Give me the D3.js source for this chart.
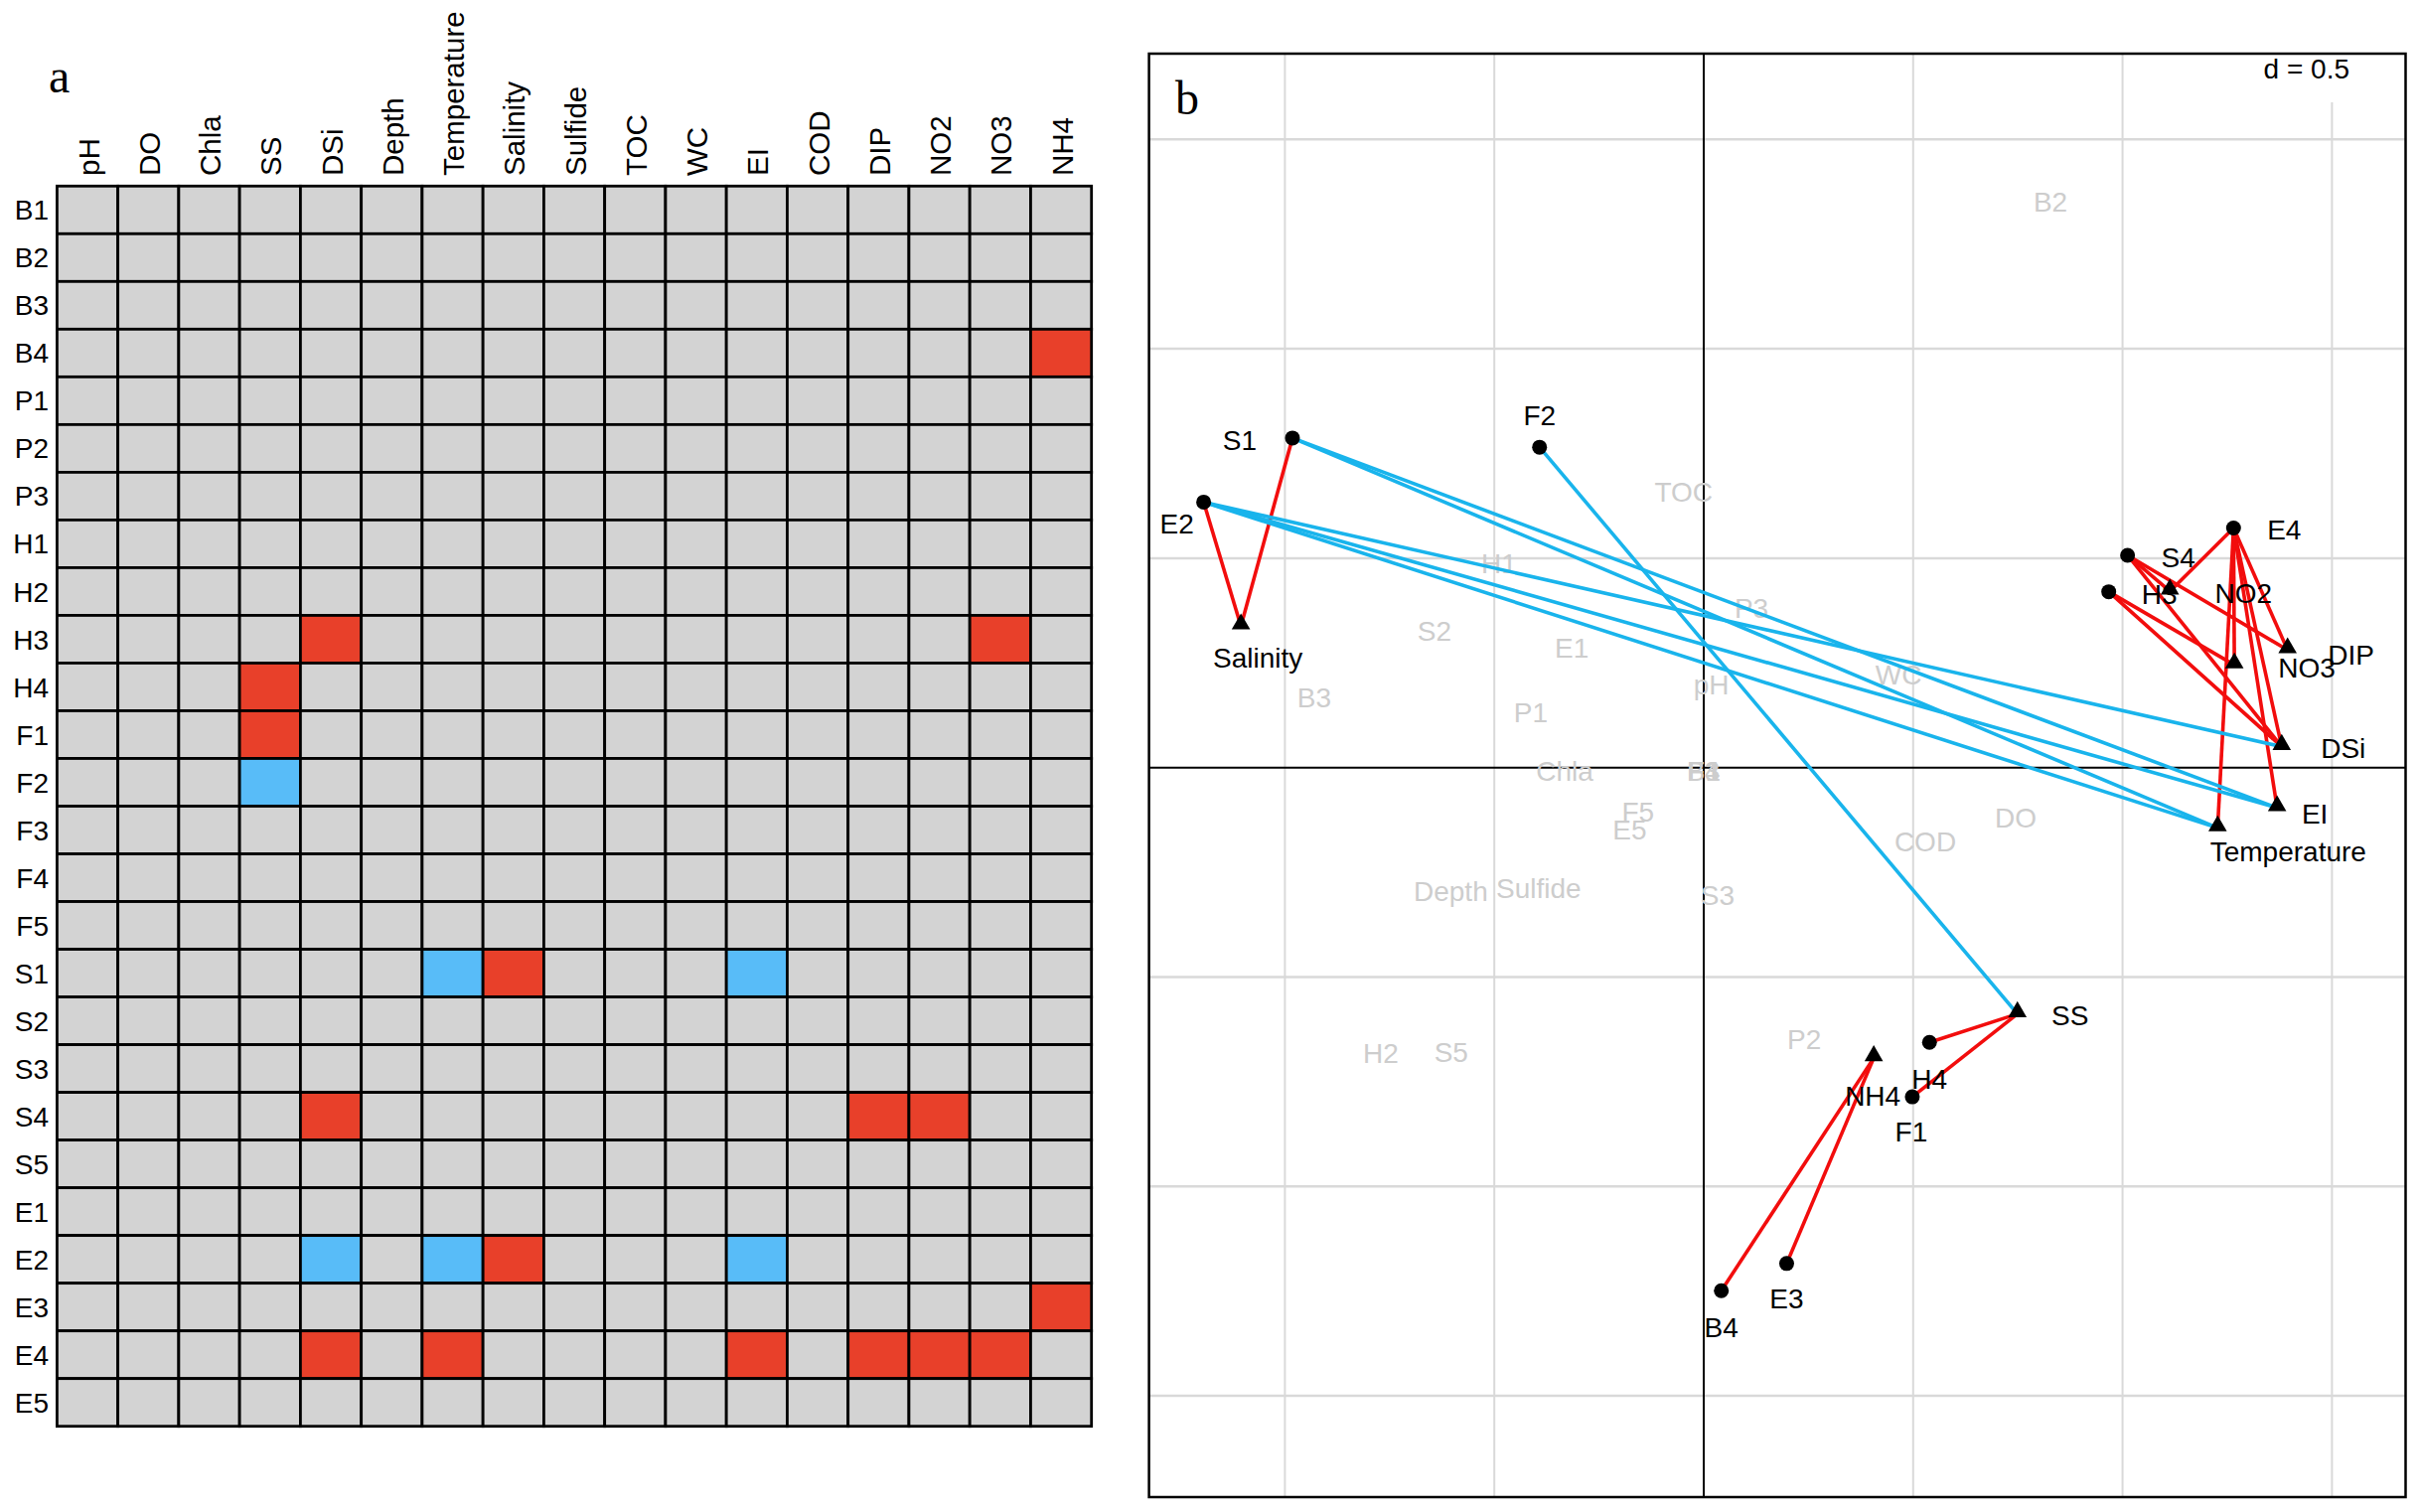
<!DOCTYPE html>
<html>
<head>
<meta charset="utf-8">
<script src="https://cdn.jsdelivr.net/npm/d3@7/dist/d3.min.js"></script>
<style>
  html, body { margin: 0; padding: 0; background: #fff; }
  svg { display: block; }
  text { font-family: "Liberation Sans", Arial, sans-serif; }
</style>
</head>
<body>
<svg id="chart" width="2436" height="1522"></svg>
<script>
// ---------------- DATA ----------------
const sites = ["B1","B2","B3","B4","P1","P2","P3","H1","H2","H3","H4","F1","F2","F3","F4","F5",
               "S1","S2","S3","S4","S5","E1","E2","E3","E4","E5"];
const variables = ["pH","DO","Chla","SS","DSi","Depth","Temperature","Salinity","Sulfide","TOC",
                   "WC","EI","COD","DIP","NO2","NO3","NH4"];

// significant positive (red) and negative (blue) site–variable correlations
const positivePairs = [
  ["B4","NH4"],["H3","DSi"],["H3","NO3"],["H4","SS"],["F1","SS"],["S1","Salinity"],
  ["S4","DSi"],["S4","DIP"],["S4","NO2"],["E2","Salinity"],["E3","NH4"],
  ["E4","DSi"],["E4","Temperature"],["E4","EI"],["E4","DIP"],["E4","NO2"],["E4","NO3"]
];
const negativePairs = [
  ["F2","SS"],["S1","Temperature"],["S1","EI"],["E2","DSi"],["E2","Temperature"],["E2","EI"]
];

// ordination scores (axis 1, axis 2), grid d = 0.5
const siteNames = ["B1","B2","B3","B4","P1","P2","P3","H1","H2","H3","H4","F1","F2","F3","F4","F5",
                   "S1","S2","S3","S4","S5","E1","E2","E3","E4","E5"];
const siteX = [0.000, 0.828,-0.930, 0.042,-0.413, 0.240, 0.114,-0.489,-0.771, 0.967, 0.539, 0.498,-0.392, 0.000, 0.000,-0.157,
              -0.982,-0.643, 0.033, 1.012,-0.603,-0.315,-1.194, 0.198, 1.265,-0.177];
const siteY = [-0.008, 1.352, 0.168,-1.249, 0.133,-0.648, 0.382, 0.487,-0.681, 0.420,-0.656,-0.786, 0.765,-0.008,-0.008,-0.105,
               0.787, 0.327,-0.304, 0.507,-0.679, 0.287, 0.634,-1.184, 0.572,-0.148];
const varNames = ["pH","DO","Chla","SS","DSi","Depth","Temperature","Salinity","Sulfide","TOC",
                  "WC","EI","COD","DIP","NO2","NO3","NH4"];
const varX = [ 0.018, 0.745,-0.332, 0.749, 1.380,-0.604, 1.227,-1.105,-0.394,-0.048,
               0.465, 1.369, 0.529, 1.394, 1.113, 1.267, 0.406];
const varY = [ 0.199,-0.119,-0.008,-0.588, 0.050,-0.295,-0.144, 0.338,-0.288, 0.659,
               0.222,-0.096,-0.176, 0.281, 0.421, 0.245,-0.693];

const gridTicksX = [-1, -0.5, 0, 0.5, 1, 1.5];
const gridTicksY = [-1.5, -1, -0.5, 0, 0.5, 1, 1.5];
const scaleLabel = "d = 0.5";

// ---------------- LAYOUT (pixels, not data) ----------------
const labelOffset = {
  S1:[-53,2], E2:[-27,22], F2:[0,-32], E4:[51,1], S4:[51,2], H3:[51,2],
  H4:[0,37], F1:[-1,35], E3:[0,35], B4:[0,37],
  Salinity:[17,32], SS:[53,1], NH4:[-1,38], NO2:[74,2], NO3:[73,3], DIP:[64,5],
  DSi:[62,1], EI:[38,6], Temperature:[71,24]
};

const RED_CELL = "#e8402a", BLUE_CELL = "#58bcf8", GRAY_CELL = "#d3d3d3";
const RED_LINE = "#f20d0d", BLUE_LINE = "#19b4ec";
const GRAY_TEXT = "#cdcdcd";

const svg = d3.select("#chart");

// ---------------- PANEL A: heat map ----------------
const posSet = new Set(positivePairs.map(p => p[0] + "|" + p[1]));
const negSet = new Set(negativePairs.map(p => p[0] + "|" + p[1]));

const xA = d3.scaleBand().domain(variables).range([57.4, 1098.7]).padding(0);
const yA = d3.scaleBand().domain(sites).range([187.3, 1435.7]).padding(0);

const gA = svg.append("g");
const cells = [];
sites.forEach(s => variables.forEach(v => {
  const k = s + "|" + v;
  cells.push({s, v, val: posSet.has(k) ? 1 : (negSet.has(k) ? -1 : 0)});
}));
gA.selectAll("rect.cell").data(cells).join("rect")
  .attr("class", "cell")
  .attr("x", d => xA(d.v)).attr("y", d => yA(d.s))
  .attr("width", xA.bandwidth()).attr("height", yA.bandwidth())
  .attr("fill", d => d.val > 0 ? RED_CELL : (d.val < 0 ? BLUE_CELL : GRAY_CELL))
  .attr("stroke", "#000").attr("stroke-width", 2.8);

gA.selectAll("text.row").data(sites).join("text")
  .attr("class", "row")
  .attr("x", 49).attr("y", d => yA(d) + yA.bandwidth() / 2)
  .attr("dy", "0.36em").attr("text-anchor", "end")
  .attr("font-size", 28).attr("fill", "#000").text(d => d);

gA.selectAll("text.col").data(variables).join("text")
  .attr("class", "col")
  .attr("transform", d => `translate(${xA(d) + xA.bandwidth() / 2 + 1},177) rotate(-90)`)
  .attr("dy", "0.36em").attr("text-anchor", "start")
  .attr("font-size", 29.5).attr("fill", "#000").text(d => d);

svg.append("text").attr("x", 49).attr("y", 93)
  .style("font-family", "'Liberation Serif', 'Times New Roman', serif")
  .attr("font-size", 48).text("a");

// ---------------- PANEL B: ordination ----------------
const L = 1156.6, R = 2421.5, T = 54, B = 1507;
const xB = d3.scaleLinear().domain([-1.3245, 1.6758]).range([L, R]);
const yB = d3.scaleLinear().domain([-1.7417, 1.7047]).range([B, T]);

const gB = svg.append("g");
gB.append("rect").attr("x", L).attr("y", T).attr("width", R - L).attr("height", B - T).attr("fill", "#fff");

// grid
gB.selectAll("line.gx").data(gridTicksX.filter(d => d !== 0)).join("line")
  .attr("x1", d => xB(d)).attr("x2", d => xB(d)).attr("y1", T).attr("y2", B)
  .attr("stroke", "#d9d9d9").attr("stroke-width", 2);
gB.selectAll("line.gy").data(gridTicksY.filter(d => d !== 0)).join("line")
  .attr("y1", d => yB(d)).attr("y2", d => yB(d)).attr("x1", L).attr("x2", R)
  .attr("stroke", "#d9d9d9").attr("stroke-width", 2.5);
// zero axes
gB.append("line").attr("x1", xB(0)).attr("x2", xB(0)).attr("y1", T).attr("y2", B)
  .attr("stroke", "#000").attr("stroke-width", 2);
gB.append("line").attr("y1", yB(0)).attr("y2", yB(0)).attr("x1", L).attr("x2", R)
  .attr("stroke", "#000").attr("stroke-width", 2);

// scale label box
gB.append("rect").attr("x", 2258).attr("y", T + 1).attr("width", R - 2258 - 1).attr("height", 48).attr("fill", "#fff");
gB.append("text").attr("x", 2365).attr("y", 79).attr("text-anchor", "end")
  .attr("font-size", 28).attr("fill", "#000").text(scaleLabel);

// positions
const sitePos = {}; siteNames.forEach((n, i) => sitePos[n] = [siteX[i], siteY[i]]);
const varPos = {}; varNames.forEach((n, i) => varPos[n] = [varX[i], varY[i]]);

const activeSites = new Set([...positivePairs, ...negativePairs].map(p => p[0]));
const activeVars = new Set([...positivePairs, ...negativePairs].map(p => p[1]));

// gray (non-significant) labels
const grayItems = [
  ...siteNames.filter(n => !activeSites.has(n)).map(n => ({n, p: sitePos[n]})),
  ...varNames.filter(n => !activeVars.has(n)).map(n => ({n, p: varPos[n]}))
];
gB.selectAll("text.gray").data(grayItems).join("text")
  .attr("class", "gray")
  .attr("x", d => xB(d.p[0])).attr("y", d => yB(d.p[1]))
  .attr("dy", "0.36em").attr("text-anchor", "middle")
  .attr("font-size", 28).attr("fill", GRAY_TEXT).text(d => d.n);

// connecting lines
const links = [
  ...positivePairs.map(p => ({s: p[0], v: p[1], c: RED_LINE})),
  ...negativePairs.map(p => ({s: p[0], v: p[1], c: BLUE_LINE}))
];
gB.selectAll("line.link").data(links).join("line")
  .attr("x1", d => xB(sitePos[d.s][0])).attr("y1", d => yB(sitePos[d.s][1]))
  .attr("x2", d => xB(varPos[d.v][0])).attr("y2", d => yB(varPos[d.v][1]))
  .attr("stroke", d => d.c).attr("stroke-width", 3.6);

// site points
const actSites = siteNames.filter(n => activeSites.has(n));
gB.selectAll("circle.site").data(actSites).join("circle")
  .attr("cx", d => xB(sitePos[d][0])).attr("cy", d => yB(sitePos[d][1]))
  .attr("r", 7.5).attr("fill", "#000");

// variable triangles
const actVars = varNames.filter(n => activeVars.has(n));
const tri = d3.symbol().type(d3.symbolTriangle).size(150);
gB.selectAll("path.var").data(actVars).join("path")
  .attr("d", tri)
  .attr("transform", d => `translate(${xB(varPos[d][0])},${yB(varPos[d][1]) - 2})`)
  .attr("fill", "#000");

// black labels
const blackItems = [
  ...actSites.map(n => ({n, p: sitePos[n]})),
  ...actVars.map(n => ({n, p: varPos[n]}))
];
gB.selectAll("text.blk").data(blackItems).join("text")
  .attr("class", "blk")
  .attr("x", d => xB(d.p[0]) + (labelOffset[d.n] ? labelOffset[d.n][0] : 0))
  .attr("y", d => yB(d.p[1]) + (labelOffset[d.n] ? labelOffset[d.n][1] : 0))
  .attr("dy", "0.36em").attr("text-anchor", "middle")
  .attr("font-size", 28).attr("fill", "#000").text(d => d.n);

// frame
gB.append("rect").attr("x", L).attr("y", T).attr("width", R - L).attr("height", B - T)
  .attr("fill", "none").attr("stroke", "#000").attr("stroke-width", 2.5);

svg.append("text").attr("x", 1183).attr("y", 115)
  .style("font-family", "'Liberation Serif', 'Times New Roman', serif")
  .attr("font-size", 48).text("b");
</script>
</body>
</html>
